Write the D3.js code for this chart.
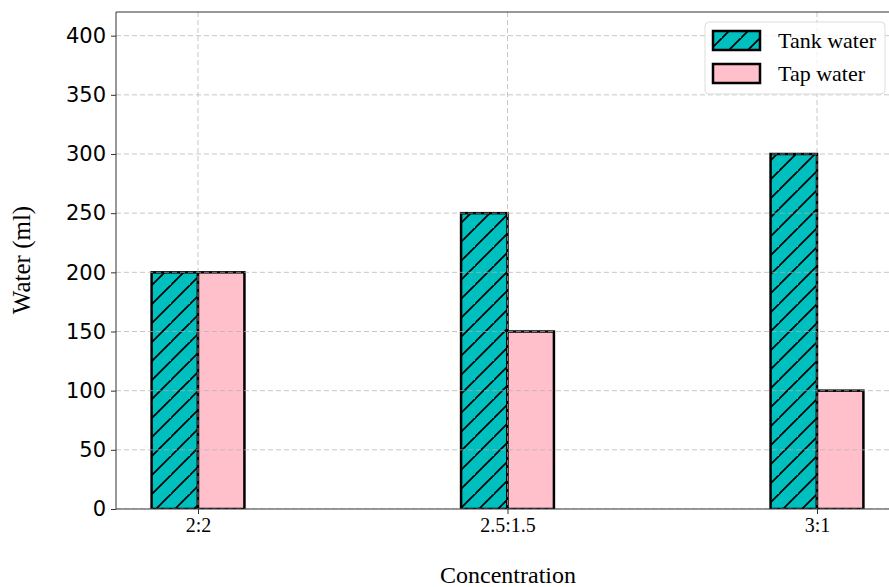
<!DOCTYPE html>
<html><head><meta charset="utf-8">
<script src="https://cdn.jsdelivr.net/npm/d3@7"></script>
<style>body{margin:0;background:#fff}svg{display:block}</style>
</head><body>
<svg id="c" width="889" height="587"></svg>
<script>
const categories = ["2:2", "2.5:1.5", "3:1"];
const seriesNames = ["Tank water", "Tap water"];
const tankWater = [200, 250, 300];
const tapWater = [200, 150, 100];
const yTicks = [0, 50, 100, 150, 200, 250, 300, 350, 400];
const colors = ["#00BFBF", "#FFC0CB"];

const svg = d3.select("#c");
const L = 116, T = 12, B = 509;
const barW = 0.15;
const x = d3.scaleLinear().domain([-0.265, 2.265]).range([L, 899]);
const y = d3.scaleLinear().domain([0, 420]).range([B, T]);

const defs = svg.append("defs");
const pat = defs.append("pattern").attr("id", "hatch").attr("patternUnits", "userSpaceOnUse")
  .attr("width", 19).attr("height", 19);
pat.append("rect").attr("width", 19).attr("height", 19).attr("fill", colors[0]);
pat.append("path").attr("d", "M-2,21 L21,-2 M-21,21 L2,-2 M17,40 L40,17")
  .attr("stroke", "#000").attr("stroke-width", 1.7);
defs.append("clipPath").attr("id", "plotclip").append("rect")
  .attr("x", L).attr("y", T).attr("width", 889 - L).attr("height", B - T);

const g = svg.append("g").attr("clip-path", "url(#plotclip)");

const series = [tankWater, tapWater];
series.forEach((vals, si) => {
  g.selectAll(null).data(vals).enter().append("rect")
    .attr("x", (d, i) => x(i + (si === 0 ? -barW : 0)))
    .attr("y", d => y(d))
    .attr("width", x(barW) - x(0))
    .attr("height", d => y(0) - y(d))
    .attr("fill", si === 0 ? "url(#hatch)" : colors[1])
    .attr("stroke", "#000").attr("stroke-width", 2.5);
});

g.selectAll(null).data(yTicks).enter().append("line")
  .attr("x1", L).attr("x2", 899).attr("y1", d => y(d)).attr("y2", d => y(d))
  .attr("stroke", "#b0b0b0").attr("stroke-opacity", 0.7).attr("stroke-dasharray", "5,3").attr("stroke-width", 1);
g.selectAll(null).data(categories).enter().append("line")
  .attr("x1", (d, i) => x(i)).attr("x2", (d, i) => x(i)).attr("y1", T).attr("y2", B)
  .attr("stroke", "#b0b0b0").attr("stroke-opacity", 0.7).attr("stroke-dasharray", "5,3").attr("stroke-width", 1);

const yAxis = d3.axisLeft(y).tickValues(yTicks).tickSize(5).tickPadding(5);
const ya = svg.append("g").attr("transform", `translate(${L},0)`).call(yAxis);
ya.select(".domain").remove();
ya.selectAll("text").attr("font-family", "DejaVu Sans").attr("font-size", 21).attr("fill", "#000");
ya.selectAll("line").attr("stroke", "#333");

const xAxis = d3.axisBottom(x).tickValues([0, 1, 2]).tickFormat(i => categories[i]).tickSize(5).tickPadding(4);
const xa = svg.append("g").attr("transform", `translate(0,${B})`).call(xAxis);
xa.select(".domain").remove();
xa.selectAll("text").attr("font-family", "Liberation Serif").attr("font-size", 20).attr("fill", "#000");
xa.selectAll("line").attr("stroke", "#333");

svg.append("path").attr("d", `M${L},${T}H889 M${L},${T}V${B} M${L},${B}H889`)
  .attr("stroke", "#333").attr("stroke-width", 1).attr("fill", "none");

svg.append("text").attr("x", 508).attr("y", 583).attr("text-anchor", "middle")
  .attr("font-family", "Liberation Serif").attr("font-size", 24).text("Concentration");
svg.append("text").attr("transform", "translate(30,260) rotate(-90)").attr("text-anchor", "middle")
  .attr("font-family", "Liberation Serif").attr("font-size", 25).text("Water (ml)");

const lg = svg.append("g");
lg.append("rect").attr("x", 705).attr("y", 22).attr("width", 180).attr("height", 72).attr("rx", 4)
  .attr("fill", "#fff").attr("fill-opacity", 0.8).attr("stroke", "#ddd");
seriesNames.forEach((n, i) => {
  const yy = 31 + i * 33;
  lg.append("rect").attr("x", 713).attr("y", yy).attr("width", 47).attr("height", 19)
    .attr("fill", i === 0 ? "url(#hatch)" : colors[1]).attr("stroke", "#000").attr("stroke-width", 2.5);
  lg.append("text").attr("x", 778).attr("y", yy + 17).attr("font-family", "Liberation Serif")
    .attr("font-size", 22).text(n);
});
</script>
</body></html>
